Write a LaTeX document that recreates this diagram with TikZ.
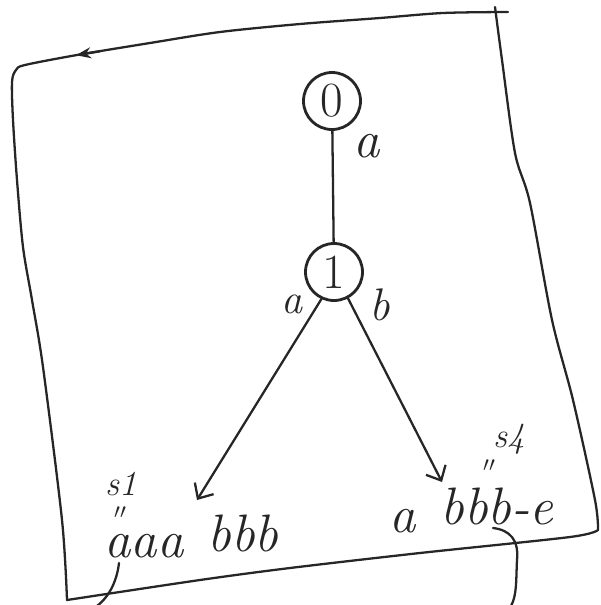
\documentclass[tikz,border=0pt]{standalone}
\usetikzlibrary{arrows.meta}
\begin{document}
\begin{tikzpicture}[x=0.02cm,y=-0.02cm,
  ink/.style={draw=black!85, line width=1.3pt, line cap=round, line join=round},
  state/.style={circle, draw=black!85, line width=1.6pt, minimum size=1.14cm, inner sep=0pt, font=\fontsize{28}{32}\selectfont, text=black!85},
  hand/.style={font=\fontsize{30}{36}\selectfont\itshape, inner sep=0pt, text=black!85},
  small/.style={font=\fontsize{20}{24}\selectfont\itshape, inner sep=0pt, text=black!85},
  ditto/.style={font=\fontsize{13}{16}\selectfont, inner sep=0pt, text=black!85},
  edge/.style={ink, -{Straight Barb[length=2.4mm,width=4.4mm]}}]
\useasboundingbox (0,0) rectangle (600,605);
% frame
\draw[ink] plot[smooth, tension=0.5] coordinates {(67,600) (62,520) (43,367) (32,300) (23,247) (17,180) (13,120) (12,82) (16,70) (25,65) (77,55) (150,43) (220,32) (300,24) (380,18) (443,13) (508,12)};
\draw[ink] plot[smooth, tension=0.5] coordinates {(495,7) (502,60) (515,153) (530,203) (552,320) (573,400) (595,500) (598,530)};
\draw[ink] plot[smooth, tension=0.5] coordinates {(67,600) (200,580) (290,568) (420,553) (570,537) (598,530)};
\draw[ink, -{Stealth[length=3mm,width=2.2mm]}] (100,51.3) -- (76,55.2);
% states
\node[state] (n0) at (332,101) {0};
\node[state] (n1) at (334,272) {1};
\draw[ink] (n0) -- (n1);
\node[hand] (la0) at (367,146) {a};
\node[hand, font=\fontsize{24}{28}\selectfont\itshape] (la1) at (292,304) {a};
\node[hand, font=\fontsize{26}{30}\selectfont\itshape] (lb1) at (380,305) {b};
% strings
\node[hand, anchor=base west] (s1a) at (104,557) {aaa};
\node[hand, anchor=base west] (s1b) at (207,551) {bbb};
\node[hand, anchor=base west] (s4a) at (389,532) {a};
\node[hand, anchor=base west] (s4str) at (440,524) {bbb-e};
\node[small] (s1lab) at (121,484) {s1};
\node[ditto] (s1eq) at (120,513) {$\prime\prime$};
\node[small] (s4lab) at (509,439) {s4};
\node[ditto] (s4eq) at (489,466) {$\prime\prime$};
% edges
\coordinate (t1) at (197,500);
\coordinate (t4) at (442,482);
\draw[edge] (n1.-115) -- (t1);
\draw[edge] (n1.-62) -- (t4);
% hooks
\coordinate (h1a) at (119,563);
\coordinate (h1b) at (97,606);
\draw[ink] (h1a) .. controls (117,580) and (110,596) .. (h1b);
\coordinate (h2a) at (493,528);
\coordinate (h2b) at (511,606);
\draw[ink] (h2a) .. controls (510,530) and (519,540) .. (517,560) .. controls (516,580) and (517,595) .. (h2b);
\end{tikzpicture}
\end{document}
